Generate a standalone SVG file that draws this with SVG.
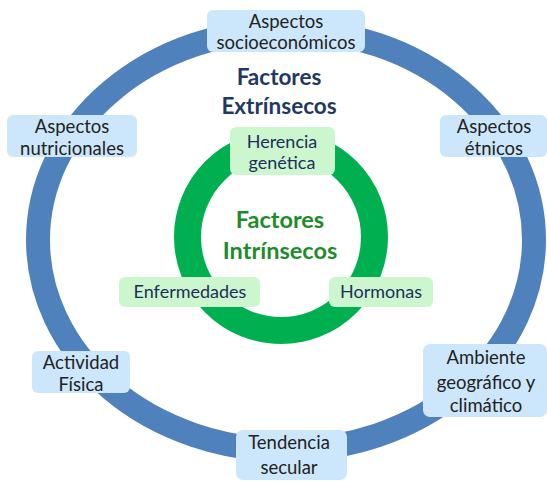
<svg xmlns="http://www.w3.org/2000/svg" width="547" height="481" viewBox="0 0 547 481">
<style>
.bb{fill:#CCE7FB;}
.gb{fill:#CCF7CE;}
.bt{font-family:Lato,"Liberation Sans",sans-serif;font-size:18.5px;fill:#222222;text-anchor:middle;}
.gt{font-family:Lato,"Liberation Sans",sans-serif;font-size:18px;fill:#1F2D5C;text-anchor:middle;}
.te{font-family:Lato,"Liberation Sans",sans-serif;font-size:22.5px;font-weight:bold;fill:#1F3864;text-anchor:middle;}
.ti{font-family:Lato,"Liberation Sans",sans-serif;font-size:23.5px;font-weight:bold;fill:#1E8C2A;text-anchor:middle;}
</style>
<rect width="547" height="481" fill="#ffffff"/>
<g id="connectors">
<ellipse cx="286" cy="240" rx="248" ry="210" fill="none" stroke="#4F81BD" stroke-width="24"/>
<circle cx="281" cy="237" r="93.5" fill="none" stroke="#00B050" stroke-width="27"/>
</g>
<g id="extrinsecos">
<text class="te" x="279" y="85">Factores</text>
<text class="te" x="279" y="114">Extrínsecos</text>
</g>
<g id="intrinsecos">
<text class="ti" x="280" y="228">Factores</text>
<text class="ti" x="280" y="259">Intrínsecos</text>
</g>
<g id="socioeconomicos">
<rect class="bb" x="207" y="10" width="158" height="42" rx="6"/>
<text class="bt" x="286" y="28">Aspectos</text>
<text class="bt" x="286" y="49">socioeconómicos</text>
</g>
<g id="nutricionales">
<rect class="bb" x="7" y="115" width="130" height="42" rx="6"/>
<text class="bt" x="72" y="133">Aspectos</text>
<text class="bt" x="72" y="155">nutricionales</text>
</g>
<g id="etnicos">
<rect class="bb" x="440" y="115" width="107" height="42" rx="6"/>
<text class="bt" x="494" y="133">Aspectos</text>
<text class="bt" x="494" y="155">étnicos</text>
</g>
<g id="actividad">
<rect class="bb" x="32" y="351" width="98" height="42" rx="6"/>
<text class="bt" x="81" y="369">Actividad</text>
<text class="bt" x="81" y="391">Física</text>
</g>
<g id="ambiente">
<rect class="bb" x="423" y="344" width="124" height="73" rx="7"/>
<text class="bt" x="486" y="364">Ambiente</text>
<text class="bt" x="486" y="389">geográfico y</text>
<text class="bt" x="486" y="412">climático</text>
</g>
<g id="tendencia">
<rect class="bb" x="236" y="430" width="111" height="50" rx="7"/>
<text class="bt" x="289" y="449">Tendencia</text>
<text class="bt" x="289" y="474">secular</text>
</g>
<g id="herencia">
<rect class="gb" x="230" y="127" width="105" height="48" rx="6"/>
<text class="gt" x="282" y="148">Herencia</text>
<text class="gt" x="282" y="169">genética</text>
</g>
<g id="enfermedades">
<rect class="gb" x="119" y="277" width="141" height="30" rx="6"/>
<text class="gt" x="190" y="298">Enfermedades</text>
</g>
<g id="hormonas">
<rect class="gb" x="329" y="277" width="104" height="30" rx="6"/>
<text class="gt" x="381" y="298">Hormonas</text>
</g>
</svg>
